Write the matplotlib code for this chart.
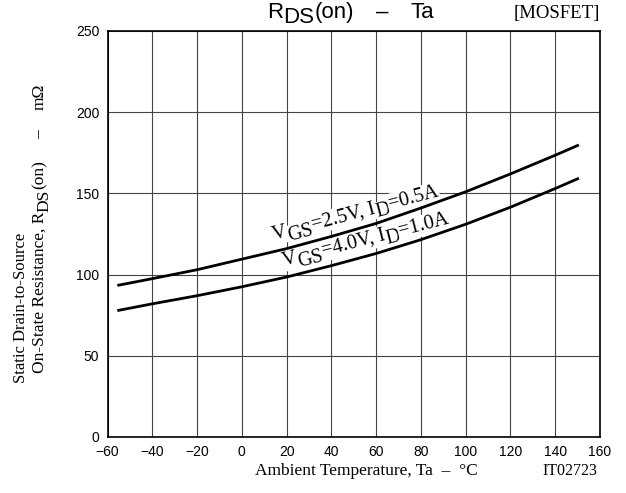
import math
import matplotlib
matplotlib.use("Agg")
import matplotlib.pyplot as plt
from matplotlib.transforms import IdentityTransform

# Ambient temperature (°C) and on-state resistance (mΩ)
ta = [-55, -40, -20, 0, 20, 40, 60, 80, 100, 120, 140, 150]
rds_vgs25 = [93.5, 97.5, 103, 109.5, 116, 123.5, 131.5, 141, 151, 162, 173.5, 179.5]
rds_vgs40 = [78, 82, 87, 92.5, 98.5, 105.5, 113, 121.5, 131, 141.5, 153, 159]

x_ticks = list(range(-60, 161, 20))
y_ticks = list(range(0, 251, 50))

W, H = 626, 493
fig = plt.figure(figsize=(W / 100, H / 100), dpi=100)
ax = fig.add_axes([107.5 / W, (H - 437) / H, (600 - 107.5) / W, (437 - 31) / H])

ax.plot(ta, rds_vgs25, color="black", lw=2.0, solid_joinstyle="round", zorder=3)
ax.plot(ta, rds_vgs40, color="black", lw=2.0, solid_joinstyle="round", zorder=3)

ax.set_xlim(-60, 160)
ax.set_ylim(0, 250)
ax.set_xticks(x_ticks)
ax.set_yticks(y_ticks)
ax.set_xticklabels([str(v).replace("-", "\u2212") for v in x_ticks],
                   family="Liberation Sans", fontsize=10)
ax.set_yticklabels([str(v) for v in y_ticks], family="Liberation Sans", fontsize=10)
ax.tick_params(length=0, pad=6)
ax.grid(True, color="#444444", lw=0.8)
ax.set_axisbelow(True)
for s in ax.spines.values():
    s.set_linewidth(1.2)
    s.set_color("black")
    s.set_zorder(4)

renderer = fig.canvas.get_renderer()


def runs(parent, x, y, pieces, angle=0.0, **kw):
    """Lay out text pieces along a baseline starting at pixel (x, y), y from top.

    pieces: list of (string, drop_px, gap_after_px); drop lowers a piece
    (subscript style) perpendicular to the baseline.
    """
    y = H - y
    a = math.radians(angle)
    ux, uy = math.cos(a), math.sin(a)
    nx, ny = -math.sin(a), math.cos(a)
    adv = 0.0
    for s, drop, gap in pieces:
        t = parent.text(0, 0, s, transform=IdentityTransform(), ha="left",
                        va="baseline", rotation=0, clip_on=False, **kw)
        w = t.get_window_extent(renderer).width
        px = x + adv * ux - drop * nx
        py = y + adv * uy - drop * ny
        t.set_position((px, py))
        t.set_rotation(angle)
        t.set_rotation_mode("anchor")
        adv += w + gap


serif = dict(family="Liberation Serif", color="black")
sans = dict(family="Liberation Sans", color="black")

# curve labels on a white ground that breaks the grid behind them
label_kw = dict(fontsize=14.5, zorder=2,
                bbox=dict(boxstyle="square,pad=0.05", fc="white", ec="none"), **serif)
runs(ax, 274, 239.5, [("V", 0, 0), ("GS", 5, 0), ("=2.5V, I", 0, 0), ("D", 5, 0),
                      ("=0.5A", 0, 0)], angle=14.8, **label_kw)
runs(ax, 284, 266, [("V", 0, 0), ("GS", 5, 0), ("=4.0V, I", 0, 0), ("D", 5, 0),
                    ("=1.0A", 0, 0)], angle=14.5, **label_kw)

# title
runs(fig, 267, 18, [("R", 0, 0), ("DS", 5, 0), ("(on)", 0, 22), ("\u2013", 0, 22),
                    ("Ta", 0, 0)], fontsize=16, **sans)
fig.text(600 / W, 1 - 18 / H, "[MOSFET]", fontsize=13.5, ha="right",
         va="baseline", **serif)

# x axis caption
fig.text(366 / W, 1 - 475 / H, "Ambient Temperature, Ta  \u2013  \u00b0C",
         fontsize=12.5, ha="center", va="baseline", **serif)
fig.text(597 / W, 1 - 475 / H, "IT02723", fontsize=11.5, ha="right",
         va="baseline", **serif)

# y axis caption (two lines, reading upward)
runs(fig, 25, 383, [("Static Drain-to-Source", 0, 0)], angle=90, fontsize=12, **serif)
runs(fig, 43.5, 373, [("On-State Resistance, R", 0, 0), ("DS", 5, 0), ("(on)", 0, 21),
                      ("\u2013", 0, 21), ("m\u03a9", 0, 0)],
     angle=90, fontsize=12.5, **serif)

fig.savefig("out.png", dpi=100)
